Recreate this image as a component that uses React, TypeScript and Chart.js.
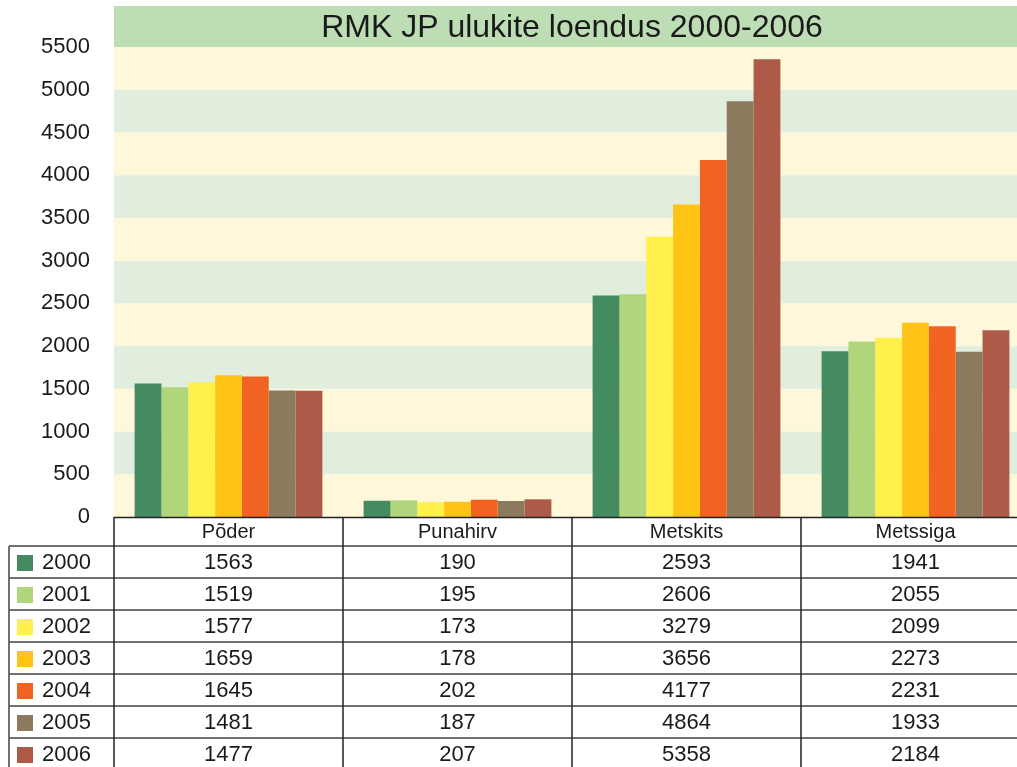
import React, { useEffect, useRef } from "react";
import { Chart, registerables } from "chart.js";

Chart.register(...registerables);

const title = "RMK JP ulukite loendus 2000-2006";
const categories = ["Põder", "Punahirv", "Metskits", "Metssiga"];
const years = ["2000", "2001", "2002", "2003", "2004", "2005", "2006"];
const v2000 = [1563, 190, 2593, 1941];
const v2001 = [1519, 195, 2606, 2055];
const v2002 = [1577, 173, 3279, 2099];
const v2003 = [1659, 178, 3656, 2273];
const v2004 = [1645, 202, 4177, 2231];
const v2005 = [1481, 187, 4864, 1933];
const v2006 = [1477, 207, 5358, 2184];
const seriesValues = [v2000, v2001, v2002, v2003, v2004, v2005, v2006];
const colors = ["#458b62", "#b1d57a", "#fff04c", "#ffc316", "#f26322", "#8c7a5e", "#ad5b48"];
const yMax = 5500;
const yStep = 500;

const FONT = "'Liberation Sans', Arial, sans-serif";

const decorPlugin = {
  id: "decor",
  beforeDatasetsDraw(chart: any) {
    const { ctx, chartArea } = chart;
    const y = chart.scales.y;
    ctx.save();
    for (let v = 0, i = 0; v < yMax; v += yStep, i++) {
      const top = y.getPixelForValue(v + yStep);
      const bot = y.getPixelForValue(v);
      ctx.fillStyle = i % 2 === 0 ? "#fef7da" : "#e2eedd";
      ctx.fillRect(chartArea.left, top, chartArea.right - chartArea.left, bot - top);
    }
    const tTop = 6;
    ctx.fillStyle = "#bddeb4";
    ctx.fillRect(chartArea.left, tTop, chartArea.right - chartArea.left, chartArea.top - tTop);
    ctx.fillStyle = "#1a1a1a";
    ctx.font = `32px ${FONT}`;
    ctx.textAlign = "center";
    ctx.textBaseline = "middle";
    ctx.fillText(title, (chartArea.left + chartArea.right) / 2, (tTop + chartArea.top) / 2 + 2);
    ctx.restore();
  },
  afterDraw(chart: any) {
    const { ctx, chartArea } = chart;
    const x = chart.scales.x;
    const left = chartArea.left;
    const right = chartArea.right;
    const top = chartArea.bottom;
    const headerH = 29;
    const rowH = 32;
    const legendLeft = 9;
    const bottom = top + headerH + rowH * years.length;
    const colW = (right - left) / categories.length;
    ctx.save();
    ctx.strokeStyle = "#222";
    ctx.lineWidth = 1.5;
    ctx.beginPath();
    ctx.moveTo(left, top + 0.5);
    ctx.lineTo(right, top + 0.5);
    ctx.stroke();
    ctx.strokeStyle = "#707070";
    ctx.lineWidth = 2;
    for (let r = 0; r <= years.length; r++) {
      const yy = top + headerH + r * rowH;
      ctx.beginPath();
      ctx.moveTo(legendLeft, yy);
      ctx.lineTo(right, yy);
      ctx.stroke();
    }
    ctx.strokeStyle = "#222";
    ctx.lineWidth = 1.5;
    for (let c = 0; c <= categories.length; c++) {
      const xx = left + c * colW;
      ctx.beginPath();
      ctx.moveTo(xx, top);
      ctx.lineTo(xx, bottom);
      ctx.stroke();
    }
    ctx.strokeStyle = "#707070";
    ctx.lineWidth = 2;
    ctx.beginPath();
    ctx.moveTo(legendLeft, top + headerH);
    ctx.lineTo(legendLeft, bottom);
    ctx.stroke();
    ctx.fillStyle = "#1a1a1a";
    ctx.font = `20px ${FONT}`;
    ctx.textBaseline = "middle";
    ctx.textAlign = "center";
    categories.forEach((cat, c) => {
      ctx.fillText(cat, x.getPixelForValue(c), top + headerH / 2 + 1);
    });
    ctx.font = `22px ${FONT}`;
    years.forEach((yr, r) => {
      const cy = top + headerH + r * rowH + rowH / 2 + 1;
      ctx.fillStyle = colors[r];
      ctx.fillRect(17, cy - 8, 16, 16);
      ctx.fillStyle = "#1a1a1a";
      ctx.textAlign = "left";
      ctx.fillText(yr, 42, cy);
      ctx.textAlign = "center";
      seriesValues[r].forEach((val, c) => {
        ctx.fillText(String(val), x.getPixelForValue(c), cy);
      });
    });
    ctx.restore();
  },
};

export default function App() {
  const ref = useRef<HTMLCanvasElement | null>(null);
  useEffect(() => {
    if (!ref.current) return;
    const chart = new Chart(ref.current, {
      type: "bar",
      data: {
        labels: categories,
        datasets: years.map((yr, i) => ({
          label: yr,
          data: seriesValues[i],
          backgroundColor: colors[i],
          borderWidth: 0,
          categoryPercentage: 0.82,
          barPercentage: 1,
        })),
      },
      options: {
        responsive: false,
        animation: false,
        layout: { padding: { top: 47, bottom: 250, left: 0, right: 0 } },
        plugins: { legend: { display: false }, tooltip: { enabled: false }, title: { display: false } },
        scales: {
          x: { display: false },
          y: {
            min: 0,
            max: yMax,
            grid: { display: false },
            border: { display: false },
            ticks: {
              stepSize: yStep,
              padding: 16,
              color: "#1a1a1a",
              font: { family: FONT, size: 22 },
              callback: (v: any) => String(v),
            },
            afterFit(scale: any) {
              scale.width = 114;
            },
          },
        },
      },
      plugins: [decorPlugin],
    });
    return () => chart.destroy();
  }, []);
  return (
    <div style={{ position: "fixed", left: 0, top: 0, width: 1017, height: 767, overflow: "hidden", background: "#fff" }}>
      <canvas ref={ref} width={1030} height={767} style={{ display: "block", width: 1030, height: 767 }} />
    </div>
  );
}
